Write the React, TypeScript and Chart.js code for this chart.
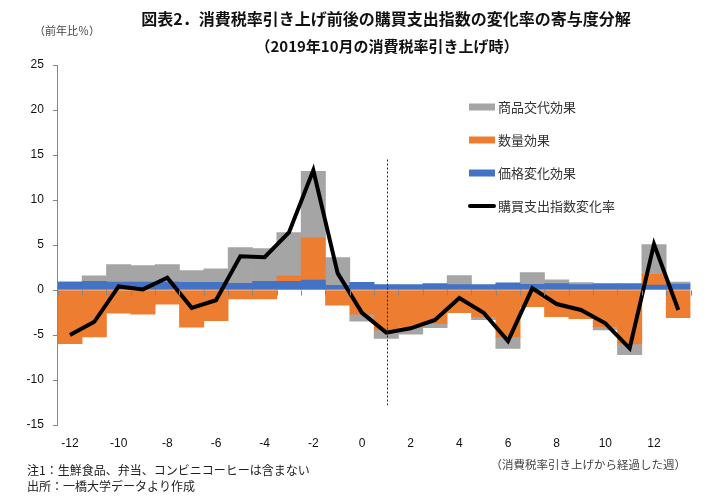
import { useEffect, useRef } from "react";
import { Chart, registerables, type Plugin } from "chart.js";

Chart.register(...registerables);

// 消費税率引き上げから経過した週
const weeks = [
  -12, -11, -10, -9, -8, -7, -6, -5, -4, -3, -2, -1, 0, 1, 2, 3, 4, 5, 6, 7, 8, 9, 10, 11, 12, 13,
];
// 価格変化効果
const priceEffect = [
  0.85, 0.95, 0.88, 0.88, 0.88, 0.85, 0.85, 0.74, 0.95, 0.95, 1.1, 0.51, 0.85, 0.6, 0.6, 0.7, 0.6,
  0.6, 0.81, 0.63, 0.7, 0.6, 0.7, 0.7, 0.56, 0.67,
];
// 数量効果
const quantityEffect = [
  -5.96, -5.22, -2.57, -2.68, -1.58, -4.12, -3.42, -0.99, -1.0, 0.66, 4.7, -1.69, -2.68, -4.44,
  -4.07, -3.74, -2.52, -3.0, -5.2, -1.85, -2.96, -3.19, -4.07, -6.0, 1.19, -3.07,
];
// 商品交代効果
const substitutionEffect = [
  0.08, 0.62, 1.95, 1.84, 1.95, 1.32, 1.5, 3.96, 3.64, 4.78, 7.39, 3.09, -0.77, -0.93, -0.85,
  -0.44, 1.0, -0.3, -1.3, 1.3, 0.44, 0.22, -0.37, -1.19, 3.3, 0.22,
];
// 購買支出指数変化率
const spendingChange = [
  -5.0, -3.53, 0.4, 0.07, 1.36, -1.98, -1.14, 3.75, 3.64, 6.4, 13.3, 1.87, -2.54, -4.74, -4.26,
  -3.33, -0.89, -2.52, -5.67, 0.19, -1.56, -2.22, -3.7, -6.48, 5.1, -2.22,
];
const yTicks = [-15, -10, -5, 0, 5, 10, 15, 20, 25];

const taxHikeWeek = 1;
const markerRange = [-12.8, 14.5];

const JP = "'Noto Sans CJK JP', 'Noto Sans', sans-serif";
const GRAY = "#A5A5A5";
const ORANGE = "#ED7D31";
const BLUE = "#4472C4";
const AXIS = "#868686";

const extras: Plugin = {
  id: "extras",
  afterDatasetsDraw(chart) {
    const { ctx } = chart;
    const x = chart.scales.x;
    const y = chart.scales.y;
    ctx.save();

    // ゼロ線の目盛り（カテゴリ境界）
    const y0 = Math.round(y.getPixelForValue(0)) + 0.5;
    const step = x.getPixelForValue(1) - x.getPixelForValue(0);
    ctx.strokeStyle = AXIS;
    ctx.lineWidth = 1;
    ctx.beginPath();
    for (let i = 0; i <= weeks.length; i++) {
      const bx = Math.round(x.getPixelForValue(0) - step / 2 + i * step) + 0.5;
      ctx.moveTo(bx, y0);
      ctx.lineTo(bx, y0 + 5);
    }
    ctx.stroke();

    // 消費税率引き上げ週の点線
    const px = Math.round(x.getPixelForValue(weeks.indexOf(taxHikeWeek))) + 1.5;
    ctx.strokeStyle = "#222";
    ctx.setLineDash([2, 2]);
    ctx.beginPath();
    ctx.moveTo(px, y.getPixelForValue(markerRange[1]));
    ctx.lineTo(px, y.getPixelForValue(markerRange[0]));
    ctx.stroke();
    ctx.setLineDash([]);

    // 凡例
    const items = [
      { label: "商品交代効果", color: GRAY, line: false },
      { label: "数量効果", color: ORANGE, line: false },
      { label: "価格変化効果", color: BLUE, line: false },
      { label: "購買支出指数変化率", color: "#000", line: true },
    ];
    ctx.font = `13px ${JP}`;
    ctx.textBaseline = "middle";
    ctx.textAlign = "left";
    items.forEach((it, i) => {
      const cy = 107 + i * 33;
      ctx.fillStyle = it.color;
      if (it.line) {
        ctx.strokeStyle = it.color;
        ctx.lineWidth = 4;
        ctx.lineCap = "round";
        ctx.beginPath();
        ctx.moveTo(470, cy);
        ctx.lineTo(494, cy);
        ctx.stroke();
      } else {
        ctx.fillRect(469, cy - 3.5, 26, 7);
      }
      ctx.fillStyle = "#333";
      ctx.fillText(it.label, 498, cy);
    });

    // タイトル
    ctx.fillStyle = "#111";
    ctx.textAlign = "center";
    ctx.font = `bold 16px ${JP}`;
    ctx.fillText("図表2．消費税率引き上げ前後の購買支出指数の変化率の寄与度分解", 386, 19);
    ctx.font = `bold 15px ${JP}`;
    ctx.fillText("（2019年10月の消費税率引き上げ時）", 387, 46);

    // 単位・注記
    ctx.fillStyle = "#444";
    ctx.textAlign = "left";
    ctx.font = `11px ${JP}`;
    ctx.fillText("（前年比％）", 34, 31);
    ctx.font = `12px ${JP}`;
    ctx.fillStyle = "#222";
    ctx.fillText("注1：生鮮食品、弁当、コンビニコーヒーは含まない", 27, 470);
    ctx.fillText("出所：一橋大学データより作成", 27, 486);
    ctx.textAlign = "right";
    ctx.fillStyle = "#444";
    ctx.font = `11.5px ${JP}`;
    ctx.fillText("（消費税率引き上げから経過した週）", 686, 465);
    ctx.restore();
  },
};

export default function App() {
  const canvasRef = useRef<HTMLCanvasElement>(null);

  useEffect(() => {
    const canvas = canvasRef.current;
    if (!canvas) return;

    const labels = weeks.map(String);
    const bar = { type: "bar" as const, stack: "bars", order: 1, barPercentage: 1, categoryPercentage: 1, borderWidth: 0 };

    const chart = new Chart(canvas, {
      type: "bar",
      data: {
        labels,
        datasets: [
          { ...bar, label: "価格変化効果", data: priceEffect, backgroundColor: BLUE },
          { ...bar, label: "数量効果", data: quantityEffect, backgroundColor: ORANGE },
          { ...bar, label: "商品交代効果", data: substitutionEffect, backgroundColor: GRAY },
          {
            type: "line" as const,
            label: "購買支出指数変化率",
            data: spendingChange,
            stack: "line",
            order: 0,
            borderColor: "#000",
            borderWidth: 4,
            pointRadius: 0,
            tension: 0,
            borderJoinStyle: "miter",
          } as any,
        ],
      },
      options: {
        responsive: true,
        maintainAspectRatio: false,
        animation: false,
        layout: { padding: { top: 65, right: 29.5, left: 0, bottom: 0 } },
        plugins: { legend: { display: false }, tooltip: { enabled: false }, title: { display: false } },
        scales: {
          x: {
            type: "category",
            stacked: true,
            offset: true,
            grid: { display: false, drawTicks: false },
            border: { display: false },
            ticks: {
              autoSkip: false,
              maxRotation: 0,
              padding: 11,
              color: "#111",
              font: { family: "'Liberation Sans', sans-serif", size: 12 },
              callback: (_v, i) => (weeks[i] % 2 === 0 ? String(weeks[i]) : ""),
            },
            afterFit: (s) => {
              s.height = 75;
            },
          },
          y: {
            stacked: true,
            min: -15,
            max: 25,
            afterBuildTicks: (s) => {
              s.ticks = yTicks.map((value) => ({ value }));
            },
            grid: { drawOnChartArea: false, drawTicks: true, tickLength: 5, color: AXIS },
            border: { color: AXIS },
            ticks: {
              padding: 9,
              color: "#111",
              font: { family: "'Liberation Sans', sans-serif", size: 12 },
            },
            afterFit: (s) => {
              s.width = 57.8;
            },
          },
        },
      },
      plugins: [extras],
    });

    return () => chart.destroy();
  }, []);

  return (
    <div style={{ position: "fixed", left: 0, top: 0, width: 720, height: 500, background: "#fff" }}>
      <canvas ref={canvasRef} />
    </div>
  );
}
